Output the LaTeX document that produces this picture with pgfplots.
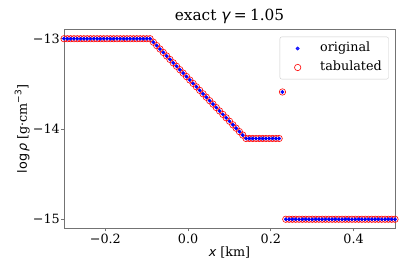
\documentclass[border=0pt]{standalone}
\usepackage{fontspec}
\setmainfont{DejaVu Serif}
\newfontfamily\dvsans{DejaVu Sans}
\usepackage{pgfplots}
\pgfplotsset{compat=1.18}
\usepackage{pgfplotstable}

\pgfplotstableread{
x y
-0.300 -13.000
-0.292 -13.000
-0.284 -13.000
-0.276 -13.000
-0.268 -13.000
-0.260 -13.000
-0.252 -13.000
-0.244 -13.000
-0.236 -13.000
-0.228 -13.000
-0.220 -13.000
-0.212 -13.000
-0.204 -13.000
-0.196 -13.000
-0.188 -13.000
-0.180 -13.000
-0.172 -13.000
-0.164 -13.000
-0.156 -13.000
-0.148 -13.000
-0.140 -13.000
-0.132 -13.000
-0.124 -13.000
-0.116 -13.000
-0.108 -13.000
-0.100 -13.000
-0.092 -13.000
-0.084 -13.038
-0.076 -13.076
-0.068 -13.114
-0.060 -13.152
-0.052 -13.191
-0.044 -13.229
-0.036 -13.267
-0.028 -13.305
-0.020 -13.343
-0.012 -13.381
-0.004 -13.419
0.004 -13.457
0.012 -13.495
0.020 -13.533
0.028 -13.572
0.036 -13.610
0.044 -13.648
0.052 -13.686
0.060 -13.724
0.068 -13.762
0.076 -13.800
0.084 -13.838
0.092 -13.876
0.100 -13.914
0.108 -13.953
0.116 -13.991
0.124 -14.029
0.132 -14.067
0.140 -14.105
0.148 -14.105
0.156 -14.105
0.164 -14.105
0.172 -14.105
0.180 -14.105
0.188 -14.105
0.196 -14.105
0.204 -14.105
0.212 -14.105
0.220 -14.105
0.228 -13.590
0.236 -15.000
0.244 -15.000
0.252 -15.000
0.260 -15.000
0.268 -15.000
0.276 -15.000
0.284 -15.000
0.292 -15.000
0.300 -15.000
0.308 -15.000
0.316 -15.000
0.324 -15.000
0.332 -15.000
0.340 -15.000
0.348 -15.000
0.356 -15.000
0.364 -15.000
0.372 -15.000
0.380 -15.000
0.388 -15.000
0.396 -15.000
0.404 -15.000
0.412 -15.000
0.420 -15.000
0.428 -15.000
0.436 -15.000
0.444 -15.000
0.452 -15.000
0.460 -15.000
0.468 -15.000
0.476 -15.000
0.484 -15.000
0.492 -15.000
0.500 -15.000
}\datatable

\begin{document}
\begin{tikzpicture}
\useasboundingbox (0,0) rectangle (411bp,274bp);
\begin{axis}[
  at={(64bp,45.7bp)}, anchor=south west,
  scale only axis, width=331bp, height=198.6bp,
  xmin=-0.3, xmax=0.5, ymin=-15.1, ymax=-12.9,
  xtick={-0.2,0,0.2,0.4}, xticklabels={−0.2,0.0,0.2,0.4},
  ytick={-15,-14,-13}, yticklabels={−15,−14,−13},
  xtick pos=bottom, ytick pos=left,
  tick align=outside, major tick length=3bp,
  every tick/.style={black!55, line width=0.8bp},
  axis line style={black!55, line width=0.8bp},
  ticklabel style={font=\fontsize{12.8}{14}\selectfont},
  xticklabel style={anchor=north, inner sep=0pt, yshift=-2.5bp},
  yticklabel style={anchor=east, inner sep=0pt, xshift=-1bp},
  title={exact {\dvsans\itshape γ}\hspace{0.22em}=\hspace{0.22em}1.05},
  title style={font=\fontsize{15.4}{18}\selectfont, at={(axis description cs:0.5,1.0151)}, anchor=base},
  xlabel={{\dvsans\itshape x} [km]},
  xlabel style={font=\fontsize{12.8}{15}\selectfont, at={(axis description cs:0.5,-0.1395)}, anchor=base},
  ylabel={{\dvsans log}\,{\dvsans\itshape ρ} [g·cm\raisebox{0.45em}{\fontsize{9}{9}\selectfont\dvsans −3}]},
  ylabel style={font=\fontsize{12.8}{15}\selectfont, at={(axis description cs:-0.1118,0.5)}, anchor=base, rotate=0},
  reverse legend,
  legend image code/.code={\path (0bp,0bp) (31bp,0bp); \draw[#1] plot coordinates {(12.3bp,0bp)};},
  legend style={at={(axis description cs:0.981,0.965)}, anchor=north east,
    draw=black!20, rounded corners=2bp, fill=white, fill opacity=0.8, text opacity=1,
    font=\fontsize{12.8}{15}\selectfont, inner xsep=5.2bp, inner ysep=3.9bp,
    row sep=3.5bp, column sep=2bp,
    nodes={text height=9.6bp, text depth=2.9bp, inner xsep=1.5bp, inner ysep=1.5bp}},
  legend cell align=left,
]
\addplot[only marks, mark=o, mark size=3.2bp, draw=red, line width=0.6bp] table[x=x,y=y] {\datatable};
\addlegendentry{tabulated}
\addplot[only marks, mark=*, mark size=1.7bp, draw=blue, fill=blue] table[x=x,y=y] {\datatable};
\addlegendentry{original}
\end{axis}
\end{tikzpicture}
\end{document}
